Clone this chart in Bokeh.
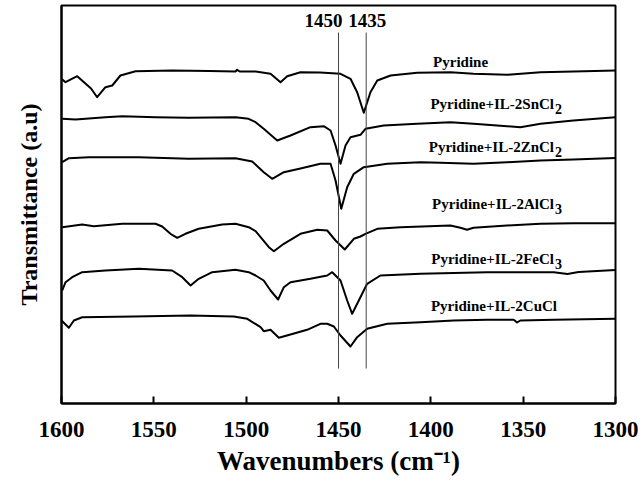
from bokeh.plotting import figure
from bokeh.models import Range1d, FixedTicker, ColumnDataSource
from bokeh.core.properties import value
from bokeh.embed import file_html
from bokeh.resources import INLINE

# FTIR spectra of pyridine adsorbed on the ionic-liquid/metal-chloride samples
# (wavenumber in cm-1, transmittance in arbitrary stacked units)
pyridine_wn = [1600, 1597.8, 1591.5, 1584, 1580.7, 1576.2, 1572.5, 1568.1, 1559.9, 1540.1,
               1520, 1505.8, 1504.9, 1503.5, 1494.9, 1486.8, 1481.4, 1477.8, 1470.6, 1460,
               1448.9, 1443.5, 1439.9, 1436.3, 1432.7, 1429.0, 1421.8, 1407.4, 1389.4,
               1376.9, 1358.6, 1340.6, 1322.7, 1300]
pyridine_t = [324.7, 321.3, 327.3, 315, 306.3, 316.3, 318, 328, 332.3, 333,
              332.5, 332, 333.7, 332, 332, 329.7, 321.3, 327.3, 331.3, 331,
              329.7, 324.7, 311.3, 290.7, 311.3, 323, 328, 330.7, 331.3,
              329.7, 328.7, 331.3, 332, 333]

sncl2_wn = [1599.6, 1592.4, 1576.2, 1567.1, 1549.1, 1531.2, 1505.8, 1498.7, 1494.9, 1490.5,
            1483.2, 1476.0, 1465.2, 1458.0, 1454.3, 1451.6, 1448.9, 1446.2, 1443.5, 1438.1,
            1435.4, 1425.5, 1407.4, 1389.4, 1376.9, 1358.7, 1351.5, 1340.6, 1322.8, 1300]
sncl2_t = [284.7, 284, 286.3, 287.3, 286.3, 285.7, 286.3, 284.7, 281.3, 274.7,
           263, 268, 276.3, 277.3, 273, 258, 239.7, 258, 266.3, 268.7,
           274.7, 278, 279.7, 281.3, 279.7, 277.3, 276.3, 279.7, 283, 286.3]

zncl2_wn = [1599.6, 1596.0, 1585.2, 1558.1, 1531.1, 1505.8, 1496.7, 1490.5, 1485.9, 1479.6,
            1470.6, 1459.8, 1454.3, 1451.6, 1448.5, 1445.3, 1441.7, 1436.3, 1423.6, 1405.6,
            1394.8, 1376.9, 1358.7, 1340.6, 1322.8, 1300]
zncl2_t = [241.3, 245.3, 246.3, 246.3, 244.7, 245.3, 242, 231.3, 224.7, 231.3,
           235, 239.7, 239.7, 223, 194.7, 216.3, 229.7, 236.3, 239.7, 241.3,
           240.7, 239.7, 241.3, 243, 244, 245.5]

alcl3_wn = [1599.6, 1588.8, 1582.5, 1567.1, 1549.1, 1545.5, 1541.0, 1537.3, 1532.9, 1525.7,
            1513.0, 1505.8, 1498.6, 1494.9, 1492.2, 1487.7, 1485.0, 1479.6, 1470.6, 1461.5,
            1456.1, 1451.6, 1446.6, 1441.7, 1438.1, 1435.4, 1429.0, 1416.4, 1389.4, 1384.0,
            1380.4, 1376.9, 1358.7, 1340.6, 1322.8, 1300]
alcl3_t = [176.3, 179, 177.3, 179.7, 179.7, 177, 169.7, 165.7, 169.7, 174.7,
           179, 179.7, 176.3, 172.3, 166.3, 156.3, 152.3, 159.7, 169.7, 173.7,
           173, 163, 154, 164.7, 167, 169.7, 174.7, 176.3, 178, 175.7,
           173.7, 175.7, 178, 179.7, 180.3, 180.3]

fecl3_wn = [1599.6, 1597.8, 1594.2, 1588.8, 1576.2, 1558.1, 1540.1, 1534.6, 1530.1, 1525.7,
            1518.4, 1505.8, 1498.6, 1494.9, 1490.5, 1486.8, 1482.7, 1479.6, 1476.0, 1465.2,
            1456.1, 1453.4, 1448.9, 1445.3, 1442.6, 1439.0, 1434.5, 1427.3, 1405.6, 1369.5,
            1333.4, 1326.0, 1320.0, 1300]
fecl3_t = [113, 121.3, 126.3, 131.3, 133, 134.7, 133, 126.3, 118, 124.7,
           131.3, 133.7, 131.3, 128, 123, 113, 104, 116.3, 121.3, 124.7,
           128, 131.3, 123, 103, 89.7, 103, 119.7, 128, 129.7, 131.3,
           131.3, 129.5, 131.5, 133.5]

cucl_wn = [1600, 1596.0, 1593.3, 1588.8, 1560.8, 1530, 1506.7, 1499.4, 1492.2, 1490.5,
           1486.8, 1482.3, 1476.0, 1467.0, 1459.8, 1456.1, 1452.5, 1448.9, 1443.5, 1439.9,
           1434.5, 1423.6, 1405.6, 1387.6, 1369.5, 1355.1, 1353.3, 1351.5, 1333.4, 1300]
cucl_t = [83, 75.7, 83, 86.3, 87, 88, 87, 84.7, 76.3, 72.3,
          73.7, 65.7, 69, 73.7, 79.7, 79.7, 77, 68, 57, 66.3,
          74.7, 79.7, 81.3, 83, 83.7, 83.7, 81, 83, 83.7, 84.7]

# reference band positions
band_positions = [1450, 1435]
band_labels = ["1450", "1435"]

# sample names: main text, subscript, label height
sub_names = ["Pyridine+IL-2SnCl", "Pyridine+IL-2ZnCl", "Pyridine+IL-2AlCl", "Pyridine+IL-2FeCl"]
sub_digits = ["2", "2", "3", "3"]
sub_label_y = [299.7, 256.3, 199.7, 144.7]
plain_names = ["Pyridine", "Pyridine+IL-2CuCl"]
plain_label_x = [1383.9, 1365.8]
plain_label_y = [341.3, 98]
x_ticks = [1600, 1550, 1500, 1450, 1400, 1350, 1300]

FONT = "Liberation Serif"

p = figure(width=642, height=490, output_backend="svg", toolbar_location=None,
           x_range=Range1d(1600, 1300), y_range=Range1d(0, 398),
           min_border_left=61, min_border_right=27, min_border_top=5, min_border_bottom=87)
p.background_fill_color = "white"
p.border_fill_color = "white"
p.xgrid.visible = False
p.ygrid.visible = False
p.outline_line_color = "black"
p.outline_line_width = 2

for wn, t in [(pyridine_wn, pyridine_t), (sncl2_wn, sncl2_t), (zncl2_wn, zncl2_t),
              (alcl3_wn, alcl3_t), (fecl3_wn, fecl3_t), (cucl_wn, cucl_t)]:
    p.line(wn, t, line_color="black", line_width=2, line_join="round")

# band marker lines and their labels
p.segment(x0=band_positions, y0=[35] * 2, x1=band_positions, y1=[371] * 2,
          line_color="#444444", line_width=1)
p.text(x=[band_positions[0]], y=[383], text=[band_labels[0]], text_align="right",
       text_baseline="middle", x_offset=4, text_font=value(FONT), text_font_style="bold",
       text_font_size="19px", text_color="black")
p.text(x=[band_positions[1]], y=[383], text=[band_labels[1]], text_align="center",
       text_baseline="middle", x_offset=1, text_font=value(FONT), text_font_style="bold",
       text_font_size="19px", text_color="black")

# sample labels with subscripted chloride stoichiometry
anchor = [1333.3] * len(sub_names)
src = ColumnDataSource(dict(x=anchor, y=sub_label_y, main=sub_names, sub=sub_digits))
p.text(x="x", y="y", text="main", source=src, text_align="right", text_baseline="middle",
       text_font=value(FONT), text_font_style="bold", text_font_size="15px", text_color="black")
p.text(x="x", y="y", text="sub", source=src, text_align="left", text_baseline="middle",
       y_offset=5, x_offset=1, text_font=value(FONT), text_font_style="bold",
       text_font_size="14px", text_color="black")
p.text(x=plain_label_x, y=plain_label_y, text=plain_names, text_align="center",
       text_baseline="middle", text_font=value(FONT), text_font_style="bold",
       text_font_size="15px", text_color="black")

# axes
p.xaxis.ticker = FixedTicker(ticks=x_ticks)
p.xaxis.minor_tick_line_color = None
p.xaxis.major_tick_in = 7
p.xaxis.major_tick_out = 0
p.xaxis.major_tick_line_width = 2
p.xaxis.major_tick_line_color = "black"
p.xaxis.axis_line_width = 2
p.xaxis.axis_line_color = "black"
p.xaxis.major_label_standoff = 18
p.xaxis.major_label_text_font = FONT
p.xaxis.major_label_text_font_style = "bold"
p.xaxis.major_label_text_font_size = "23px"
p.xaxis.major_label_text_color = "black"
p.xaxis.axis_label = "Wavenumbers (cm\u207b\u00b9)"
p.xaxis.axis_label_text_font = FONT
p.xaxis.axis_label_text_font_style = "bold"
p.xaxis.axis_label_text_font_size = "27px"
p.xaxis.axis_label_text_color = "black"
p.xaxis.axis_label_standoff = 6

p.yaxis.ticker = FixedTicker(ticks=[])
p.yaxis.minor_tick_line_color = None
p.yaxis.major_tick_line_color = None
p.yaxis.axis_line_width = 2
p.yaxis.axis_line_color = "black"
p.yaxis.axis_label = "Transmittance (a.u)"
p.yaxis.axis_label_text_font = FONT
p.yaxis.axis_label_text_font_style = "bold"
p.yaxis.axis_label_text_font_size = "24px"
p.yaxis.axis_label_text_color = "black"
p.yaxis.axis_label_standoff = 20

open("out.html", "w").write(file_html(p, INLINE))
